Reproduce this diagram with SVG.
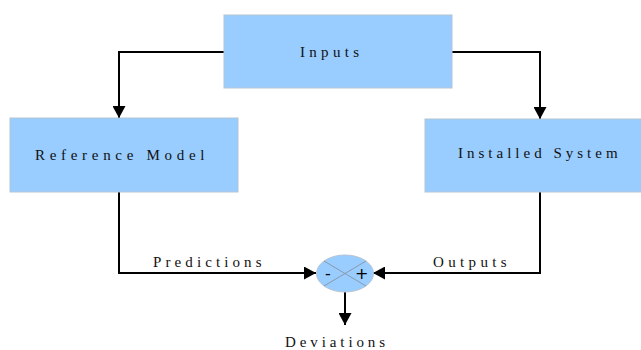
<svg xmlns="http://www.w3.org/2000/svg" width="641" height="350" viewBox="0 0 641 350">
  <style>
    .box { fill: #99ccff; stroke: #b4c4d4; stroke-width: 1; }
    .lbl { font-family: "Liberation Serif", "Times New Roman", serif; font-size: 15px; letter-spacing: 4.3px; fill: #111; }
    .wire { fill: none; stroke: #000; stroke-width: 2; }
    .sign { font-family: "DejaVu Sans", "Liberation Sans", sans-serif; font-size: 16px; fill: #000; }
  </style>
  <defs>
    <marker id="arrow" viewBox="0 0 12 13" refX="12" refY="6.5" markerWidth="12" markerHeight="13" markerUnits="userSpaceOnUse" orient="auto">
      <path d="M0,0 L12,6.5 L0,13 Z" fill="#000"/>
    </marker>
  </defs>
  <rect width="641" height="350" fill="#fff"/>

  <g id="connectors">
    <polyline class="wire" points="224,52 119,52 119,118" marker-end="url(#arrow)"/>
    <polyline class="wire" points="451,52 540,52 540,119" marker-end="url(#arrow)"/>
    <polyline class="wire" points="119,192 119,273 316,273" marker-end="url(#arrow)"/>
    <polyline class="wire" points="540,192 540,273 373,273" marker-end="url(#arrow)"/>
    <line class="wire" x1="345" y1="292" x2="345" y2="325" marker-end="url(#arrow)"/>
  </g>

  <g id="inputs">
    <rect class="box" x="224" y="15" width="228" height="73"/>
    <text class="lbl" x="300" y="57" style="letter-spacing:4.3px">Inputs</text>
  </g>

  <g id="reference-model">
    <rect class="box" x="10" y="118" width="228" height="74"/>
    <text class="lbl" x="35" y="160" style="letter-spacing:4.7px">Reference Model</text>
  </g>

  <g id="installed-system">
    <rect class="box" x="425" y="119" width="220" height="73"/>
    <text class="lbl" x="458" y="158" style="letter-spacing:4px">Installed System</text>
  </g>

  <g id="comparator">
    <ellipse class="box" cx="345" cy="273.5" rx="28.5" ry="18.5"/>
    <line x1="324" y1="261" x2="366" y2="286" stroke="#8a9aaa" stroke-width="1"/>
    <line x1="366" y1="261" x2="324" y2="286" stroke="#8a9aaa" stroke-width="1"/>
    <text class="sign" x="325" y="279">-</text>
    <text class="sign" x="355" y="279">+</text>
  </g>

  <g id="labels">
    <text class="lbl" x="153" y="267" style="letter-spacing:4.1px">Predictions</text>
    <text class="lbl" x="433" y="267" style="letter-spacing:4.35px">Outputs</text>
    <text class="lbl" x="285" y="347" style="letter-spacing:3.9px">Deviations</text>
  </g>
</svg>
